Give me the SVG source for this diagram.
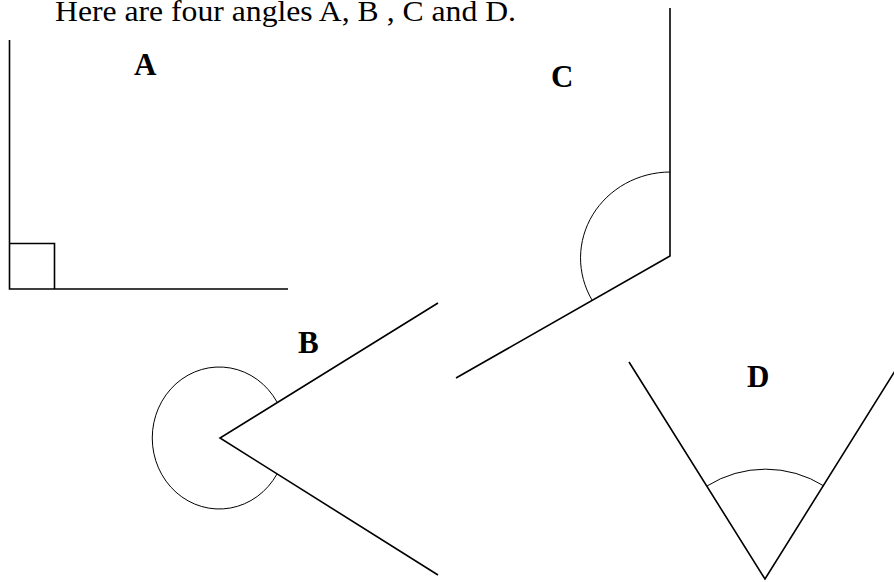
<svg xmlns="http://www.w3.org/2000/svg" width="894" height="582" viewBox="0 0 894 582">
<style>
.ray{stroke:#000;stroke-width:1.6;fill:none;stroke-linecap:butt}
.arc{stroke:#000;stroke-width:1;fill:none}
.lbl{font-family:"Liberation Serif","Times New Roman",serif;font-weight:bold;font-size:31px;fill:#000}
.title{font-family:"Liberation Serif","Times New Roman",serif;font-size:29px;fill:#000}
</style>
<rect width="894" height="582" fill="#fff"/>
<text class="title" x="55" y="21" textLength="461" lengthAdjust="spacingAndGlyphs">Here are four angles A, B , C and D.</text>
<g id="angleA">
<path class="ray" d="M9.5 40 V289 H288"/>
<path class="ray" d="M9.5 243.5 H54.5 V289"/>
<text class="lbl" x="134" y="75">A</text>
</g>
<g id="angleB">
<path class="ray" d="M438 303 L220 438 L438 575"/>
<path class="arc" d="M277 402 A67 71 0 1 0 277 474"/>
<text class="lbl" x="298" y="353">B</text>
</g>
<g id="angleC">
<path class="ray" d="M670 8 V256 L456 378"/>
<path class="arc" d="M670 172 A90 86 0 0 0 592 300"/>
<text class="lbl" x="551" y="87">C</text>
</g>
<g id="angleD">
<path class="ray" d="M629 362 L765 579 L898 366"/>
<path class="arc" d="M707 486 A110 110 0 0 1 824 486"/>
<text class="lbl" x="747" y="387">D</text>
</g>
</svg>
